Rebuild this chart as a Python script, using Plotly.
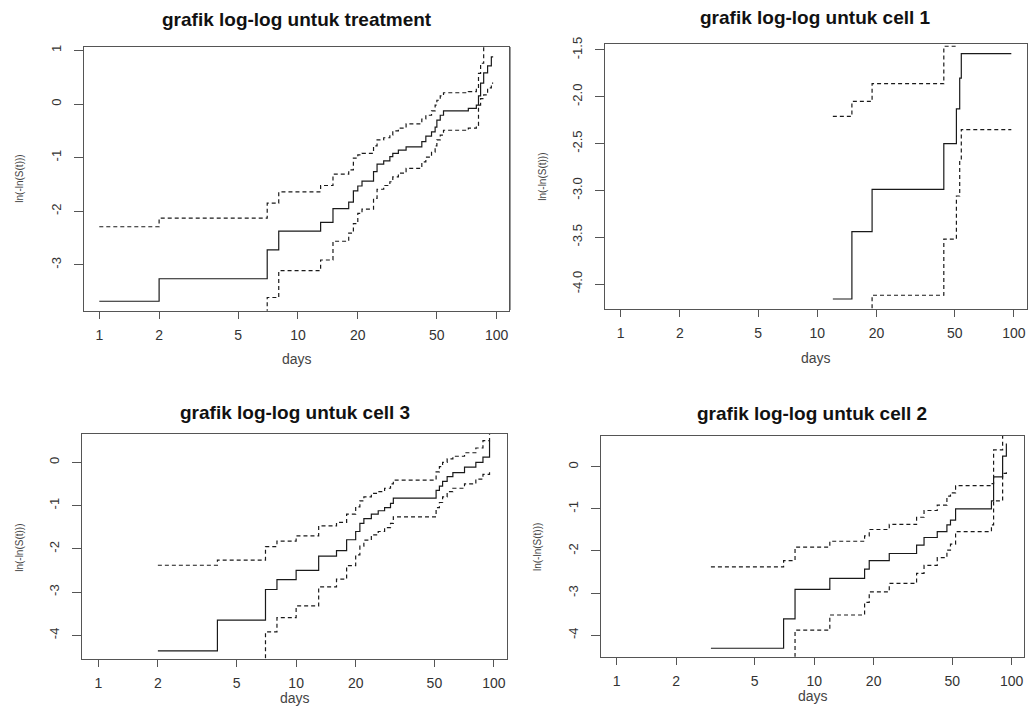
import plotly.graph_objects as go

# ---------------- data ----------------
# NEG marks log(-log(S)) = -Inf (upper CI of S equal to 1) -> drawn below the axis
NEG = -9.0

treat_days = [1, 2, 7, 8, 13, 15, 18, 19, 20, 21, 24, 25, 27, 29, 30, 32, 35, 42, 44, 47,
              49, 50, 52, 54, 72, 79, 81, 83, 86, 90, 94, 96]
treat_est = [-3.68, -3.26, -2.72, -2.37, -2.21, -1.95, -1.83, -1.62, -1.53, -1.44, -1.26, -1.12,
             -1.06, -0.98, -0.92, -0.86, -0.80, -0.70, -0.60, -0.52, -0.43, -0.30, -0.21, -0.13,
             -0.08, -0.02, 0.15, 0.39, 0.58, 0.71, 0.88, 0.88]
treat_upper = [-2.29, -2.13, -1.85, -1.64, -1.52, -1.31, -1.23, -1.01, -0.95, -0.92, -0.78, -0.67,
               -0.63, -0.58, -0.50, -0.45, -0.37, -0.28, -0.21, -0.13, -0.02, 0.07, 0.15, 0.21,
               0.23, 0.29, 0.57, 0.76, 1.15, 1.30, 1.50, 1.50]
treat_lower = [NEG, NEG, -3.61, -3.11, -2.91, -2.56, -2.41, -2.23, -2.04, -1.96, -1.76, -1.59,
               -1.52, -1.45, -1.36, -1.29, -1.20, -1.08, -0.99, -0.90, -0.78, -0.67, -0.58, -0.49,
               -0.45, -0.40, -0.02, 0.10, 0.17, 0.30, 0.39, 0.39]

cell1_days = [12, 15, 19, 44, 51, 53, 54, 97]
cell1_est = [-4.16, -3.44, -2.99, -2.50, -2.13, -1.80, -1.54, -1.54]
cell1_upper = [-2.21, -2.05, -1.86, -1.46, -1.10, -0.85, -0.60, -0.60]
cell1_lower = [NEG, NEG, -4.12, -3.52, -3.06, -2.68, -2.35, -2.35]

cell3_days = [2, 4, 7, 8, 10, 13, 16, 18, 20, 21, 22, 24, 26, 28, 30, 31, 51, 53, 55, 58,
              62, 71, 81, 88, 95]
cell3_est = [-4.36, -3.65, -2.94, -2.71, -2.50, -2.17, -2.04, -1.79, -1.60, -1.41, -1.30, -1.20,
             -1.12, -1.05, -0.95, -0.83, -0.65, -0.55, -0.44, -0.33, -0.24, -0.11, 0.00, 0.12, 0.50]
cell3_upper = [-2.38, -2.26, -1.95, -1.82, -1.70, -1.47, -1.39, -1.20, -1.03, -0.89, -0.80, -0.72,
               -0.68, -0.60, -0.50, -0.41, -0.22, -0.10, 0.00, 0.08, 0.14, 0.22, 0.33, 0.50, 0.90]
cell3_lower = [NEG, NEG, -3.92, -3.59, -3.32, -2.88, -2.70, -2.39, -2.14, -1.94, -1.80, -1.68,
               -1.60, -1.51, -1.41, -1.26, -1.05, -0.93, -0.80, -0.68, -0.60, -0.50, -0.39, -0.28,
               -0.18]

cell2_days = [3, 7, 8, 12, 18, 19, 24, 33, 36, 42, 47, 49, 52, 79, 81, 90, 94]
cell2_est = [-4.31, -3.61, -2.91, -2.65, -2.43, -2.23, -2.06, -1.86, -1.68, -1.54, -1.38, -1.27,
             -1.00, -0.81, -0.24, 0.25, 0.55]
cell2_upper = [-2.38, -2.23, -1.91, -1.77, -1.64, -1.49, -1.37, -1.20, -1.04, -0.91, -0.70, -0.62,
               -0.45, -0.40, 0.40, 0.95, 1.30]
cell2_lower = [NEG, NEG, -3.88, -3.52, -3.22, -2.97, -2.77, -2.53, -2.34, -2.16, -1.98, -1.84,
               -1.54, -1.38, -0.81, -0.16, -0.12]

titles = ["grafik log-log untuk treatment", "grafik log-log untuk cell 1",
          "grafik log-log untuk cell 3", "grafik log-log untuk cell 2"]
x_title = "days"
y_title = "ln(-ln(S(t)))"

x_tickvals = [1, 2, 5, 10, 20, 50, 100]
x_ticktext = ["1", "2", "5", "10", "20", "50", "100"]

y_ticks_treat = [-3, -2, -1, 0, 1]
y_ticks_treat_text = ["-3", "-2", "-1", "0", "1"]
y_ticks_cell1 = [-4.0, -3.5, -3.0, -2.5, -2.0, -1.5]
y_ticks_cell1_text = ["-4.0", "-3.5", "-3.0", "-2.5", "-2.0", "-1.5"]
y_ticks_cell = [-4, -3, -2, -1, 0]
y_ticks_cell_text = ["-4", "-3", "-2", "-1", "0"]

# ---------------- layout (pixel geometry) ----------------
W, H = 1029, 707

panels = [
    dict(data=(treat_days, treat_est, treat_upper, treat_lower),
         box=(84, 509, 46.7, 310.7), xr=(-0.077, 2.062), yr=(-3.856, 1.069),
         yt=(y_ticks_treat, y_ticks_treat_text),
         title_pos=(296.7, 20), xt_pos=(296.5, 359), yt_pos=(20, 178.7)),
    dict(data=(cell1_days, cell1_est, cell1_upper, cell1_lower),
         box=(605.3, 1026.7, 43.7, 309.3), xr=(-0.078, 2.065), yr=(-4.270, -1.433),
         yt=(y_ticks_cell1, y_ticks_cell1_text),
         title_pos=(815, 17), xt_pos=(816, 357.7), yt_pos=(542.3, 176.5)),
    dict(data=(cell3_days, cell3_est, cell3_upper, cell3_lower),
         box=(82.3, 507, 434.3, 658.7), xr=(-0.081, 2.066), yr=(-4.54, 0.647),
         yt=(y_ticks_cell, y_ticks_cell_text),
         title_pos=(294.5, 412.7), xt_pos=(294.7, 698), yt_pos=(19.3, 547.5)),
    dict(data=(cell2_days, cell2_est, cell2_upper, cell2_lower),
         box=(601, 1024.3, 435.7, 656.7), xr=(-0.0795, 2.064), yr=(-4.51, 0.736),
         yt=(y_ticks_cell, y_ticks_cell_text),
         title_pos=(812, 413.3), xt_pos=(812.7, 696), yt_pos=(537.3, 546.7)),
]

FONT = "Liberation Sans, Arial, Helvetica, sans-serif"
LINE_COL = "#1a1a1a"
BOX_COL = "#555555"

fig = go.Figure()
layout = dict(
    width=W, height=H, margin=dict(l=0, r=0, t=0, b=0, autoexpand=False),
    paper_bgcolor="white", plot_bgcolor="white", showlegend=False,
    annotations=[], shapes=[],
)

def px(x):
    return x / W

def py(y):
    return 1 - y / H

for i, p in enumerate(panels):
    n = "" if i == 0 else str(i + 1)
    xa, ya = "x" + n, "y" + n
    days, est, up, lo = p["data"]
    for vals, dash in ((est, "solid"), (up, "4px,3px"), (lo, "4px,3px")):
        fig.add_trace(go.Scatter(
            x=days, y=vals, mode="lines", xaxis=xa, yaxis=ya,
            line=dict(color=LINE_COL, width=1.2, shape="hv", dash=dash),
            hoverinfo="skip"))
    l, r, t, b = p["box"]
    layout["xaxis" + n] = dict(
        type="log", domain=[px(l), px(r)], range=list(p["xr"]), anchor=ya,
        tickvals=x_tickvals, ticktext=x_ticktext, ticks="outside", ticklen=7,
        tickwidth=1, tickcolor=BOX_COL, showgrid=False, zeroline=False,
        showline=True, mirror=True, linecolor=BOX_COL, linewidth=1.2,
        tickfont=dict(family=FONT, size=14, color="#333"), ticklabelstandoff=4)
    layout["yaxis" + n] = dict(
        domain=[py(b), py(t)], range=list(p["yr"]), anchor=xa,
        tickvals=p["yt"][0], ticktext=p["yt"][1], ticks="outside", ticklen=9,
        tickwidth=1, tickcolor=BOX_COL, showgrid=False, zeroline=False,
        showline=True, mirror=True, linecolor=BOX_COL, linewidth=1.2,
        tickangle=-90, tickfont=dict(family=FONT, size=13, color="#333"),
        ticklabelstandoff=8)
    tx, ty = p["title_pos"]
    layout["annotations"].append(dict(
        text="<b>" + titles[i] + "</b>", x=px(tx), y=py(ty), xref="paper", yref="paper",
        xanchor="center", yanchor="middle", showarrow=False,
        font=dict(family=FONT, size=19, color="#111")))
    ax_, ay_ = p["xt_pos"]
    layout["annotations"].append(dict(
        text=x_title, x=px(ax_), y=py(ay_), xref="paper", yref="paper",
        xanchor="center", yanchor="middle", showarrow=False,
        font=dict(family=FONT, size=14, color="#444")))
    bx_, by_ = p["yt_pos"]
    layout["annotations"].append(dict(
        text=y_title, x=px(bx_), y=py(by_), xref="paper", yref="paper",
        xanchor="center", yanchor="middle", showarrow=False, textangle=-90,
        font=dict(family=FONT, size=10, color="#444")))

# stray gray edge visible at left of the "cell 1" panel in the reference
layout["shapes"].append(dict(type="line", xref="paper", yref="paper",
                             x0=px(510.5), x1=px(510.5), y0=py(310), y1=py(47),
                             line=dict(color="#999999", width=1)))

fig.update_layout(**layout)
fig.write_html("out.html", config={"displayModeBar": False},
               post_script="document.documentElement.style.margin='0';"
                           "document.body.style.margin='0';")
